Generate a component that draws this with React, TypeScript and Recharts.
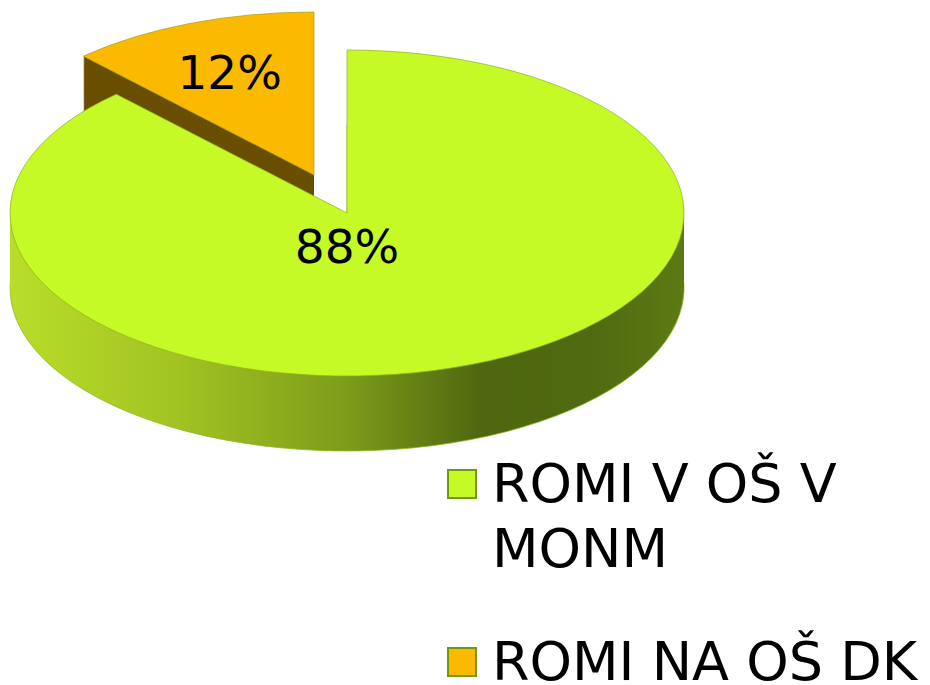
import { PieChart, Pie, Cell } from "recharts";

const SLICE_NAMES = ["ROMI V OŠ V MONM", "ROMI NA OŠ DK"];
const SLICE_VALUES = [88, 12];
const TOP_COLORS = ["#c6fa26", "#fbb900"];
const EDGE_COLORS = ["#8fb41e", "#a8a020"];
const WALL_COLORS = ["url(#greenWall)", "#6a4f00"];

// geometry of the tilted pie (screen pixels)
const RX = 337;
const RY = 163;
const SQUASH = RY / RX;
const CX = 347;
const CY = 213;
const DEPTH = 75;
const EXPLODE_X = -33;
const EXPLODE_Y = -38;
const GREEN_LAYERS = 18;
const ORANGE_LAYERS = 75;
const SVG_H = Math.ceil(685 / SQUASH);

const pieData = SLICE_NAMES.map((name, i) => ({ name, value: SLICE_VALUES[i] }));

const RADIAN = Math.PI / 180;
const FONT = "'DejaVu Sans', Verdana, sans-serif";

type LabelProps = {
  cx: number;
  cy: number;
  midAngle: number;
  outerRadius: number;
  percent: number;
  index: number;
};

function makeLabel(showIndex: number) {
  return (props: LabelProps) => {
    const { cx, cy, midAngle, outerRadius, percent, index } = props;
    if (index !== showIndex) return null;
    let x: number;
    let y: number;
    if (percent > 0.5) {
      // big slice: label sits near the centre like Excel's best fit
      x = cx;
      y = cy + outerRadius * 0.2;
    } else {
      const r = outerRadius * 0.68;
      x = cx + r * Math.cos(-midAngle * RADIAN);
      y = cy + r * Math.sin(-midAngle * RADIAN);
    }
    return (
      <text
        transform={`translate(${x},${y}) scale(1,${1 / SQUASH})`}
        textAnchor="middle"
        dy="0.36em"
        fill="#000"
        fontFamily={FONT}
        fontSize={47}
      >
        {`${Math.round(percent * 100)}%`}
      </text>
    );
  };
}

function slicePie(
  key: string,
  sliceIndex: number,
  offsetX: number,
  offsetY: number,
  top: boolean,
  edge: boolean,
) {
  return (
    <Pie
      key={key}
      data={pieData}
      dataKey="value"
      nameKey="name"
      cx={CX + offsetX}
      cy={(CY + offsetY) / SQUASH}
      outerRadius={RX}
      startAngle={90}
      endAngle={-270}
      isAnimationActive={false}
      labelLine={false}
      label={top ? makeLabel(sliceIndex) : false}
    >
      {pieData.map((_d, i) => (
        <Cell
          key={`c-${i}`}
          fill={i === sliceIndex ? (top ? TOP_COLORS[i] : WALL_COLORS[i]) : "transparent"}
          stroke={i === sliceIndex && (top || edge) ? EDGE_COLORS[i] : "none"}
          strokeWidth={1}
          vectorEffect="non-scaling-stroke"
        />
      ))}
    </Pie>
  );
}

const offsets = (n: number) => Array.from({ length: n }, (_, i) => DEPTH * (1 - i / n));

function TiltedPie() {
  return (
    <div
      style={{
        position: "absolute",
        left: 0,
        top: 0,
        width: 930,
        height: SVG_H,
        transform: `scaleY(${SQUASH})`,
        transformOrigin: "0 0",
      }}
    >
      <PieChart width={930} height={SVG_H} margin={{ top: 0, right: 0, bottom: 0, left: 0 }}>
        <defs>
          <linearGradient
            id="greenWall"
            gradientUnits="userSpaceOnUse"
            x1={CX - RX}
            y1={0}
            x2={CX + RX}
            y2={0}
          >
            <stop offset="0%" stopColor="#b9dd2a" />
            <stop offset="25%" stopColor="#a2c322" />
            <stop offset="50%" stopColor="#7d9c1a" />
            <stop offset="70%" stopColor="#4e6710" />
            <stop offset="86%" stopColor="#506a10" />
            <stop offset="100%" stopColor="#5c7a13" />
          </linearGradient>
        </defs>
        {offsets(ORANGE_LAYERS).map((d, j) =>
          slicePie(`ow-${j}`, 1, EXPLODE_X, EXPLODE_Y + d, false, false),
        )}
        {slicePie("ot", 1, EXPLODE_X, EXPLODE_Y, true, false)}
        {offsets(GREEN_LAYERS).map((d, j) => slicePie(`gw-${j}`, 0, 0, d, false, j === 0))}
        {slicePie("gt", 0, 0, 0, true, false)}
      </PieChart>
    </div>
  );
}

function PieLegend() {
  return (
    <div
      style={{
        position: "absolute",
        left: 447,
        top: 451,
        fontFamily: FONT,
        fontSize: 54,
        lineHeight: "65px",
        color: "#000",
      }}
    >
      {SLICE_NAMES.map((name, i) => (
        <div key={name} style={{ display: "flex", marginBottom: 48 }}>
          <span
            style={{
              display: "inline-block",
              boxSizing: "border-box",
              width: 30,
              height: 30,
              marginTop: 18,
              marginRight: 15,
              background: TOP_COLORS[i],
              border: "2px solid #6f9a10",
              flexShrink: 0,
            }}
          />
          <span style={{ width: 438 }}>{name}</span>
        </div>
      ))}
    </div>
  );
}

export default function App() {
  return (
    <div
      style={{
        position: "absolute",
        left: 0,
        top: 0,
        width: 930,
        height: 685,
        overflow: "hidden",
        background: "#fff",
      }}
    >
      <TiltedPie />
      <PieLegend />
    </div>
  );
}
